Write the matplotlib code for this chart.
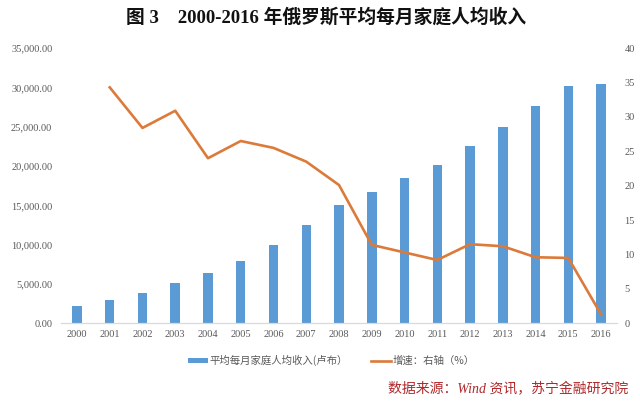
import numpy as np
import matplotlib.pyplot as plt
from matplotlib.ticker import FuncFormatter

plt.rcParams['font.family'] = ['Liberation Serif', 'Noto Sans CJK SC', 'DejaVu Sans']

years = [str(y) for y in range(2000, 2017)]
income = [2240, 2970, 3820, 5100, 6370, 7930, 10000, 12470, 15100, 16700,
          18450, 20100, 22600, 25000, 27600, 30200, 30500]
growth = [np.nan, 34.3, 28.4, 30.9, 24.0, 26.5, 25.5, 23.5, 20.1, 11.4,
          10.3, 9.2, 11.5, 11.2, 9.6, 9.5, 1.3]

bar_color = '#5B9BD5'
line_color = '#DC7A3A'
tick_color = '#595959'

fig = plt.figure(figsize=(6.4, 4.04), dpi=100)
ax = fig.add_axes([0.0947, 0.1998, 0.87, 0.681])
ax2 = ax.twinx()

x = np.arange(len(years))
ax.bar(x, income, width=0.29, color=bar_color, zorder=2,
       label='平均每月家庭人均收入(卢布）')
ax2.plot(x, growth, color=line_color, lw=1.9, zorder=3,
         label='增速：右轴（%）')

ax.set_xlim(-0.5, len(years) - 0.5)
ax.set_ylim(0, 35000)
ax2.set_ylim(0, 40)
ax.set_yticks(np.arange(0, 35001, 5000))
ax2.set_yticks(np.arange(0, 41, 5))
ax.yaxis.set_major_formatter(FuncFormatter(lambda v, p: f'{v:,.2f}'))
ax.set_xticks(x)
ax.set_xticklabels(years)

for a in (ax, ax2):
    for s in ('top', 'left', 'right'):
        a.spines[s].set_visible(False)
    a.spines['bottom'].set_color('#D9D9D9')
    a.tick_params(length=0, labelsize=7.5, colors=tick_color)
ax.tick_params(axis='y', pad=6)
ax2.tick_params(axis='y', pad=5)
ax.tick_params(axis='x', pad=5)

h1, l1 = ax.get_legend_handles_labels()
h2, l2 = ax2.get_legend_handles_labels()
leg = fig.legend(h1 + h2, l1 + l2, loc='center', bbox_to_anchor=(0.518, 0.108),
                 ncol=2, frameon=False, fontsize=7.5, handlelength=1.9,
                 handleheight=0.35, columnspacing=2.2, handletextpad=0.15)
for t in leg.get_texts():
    t.set_color(tick_color)
    t.set_family(['Noto Sans CJK SC', 'DejaVu Sans'])

fig.text(0.509, 0.958, '图 3    2000-2016 年俄罗斯平均每月家庭人均收入',
         ha='center', va='center', fontsize=13.5, fontweight='bold',
         family=['Liberation Serif', 'Noto Sans CJK SC'], color='#111111')
fig.text(0.982, 0.037, '数据来源：Wind 资讯，苏宁金融研究院', ha='right', va='center',
         fontsize=10, style='italic', color='#B0282A',
         family=['Liberation Serif', 'Noto Sans CJK SC'])

fig.savefig('out.png', dpi=100)
